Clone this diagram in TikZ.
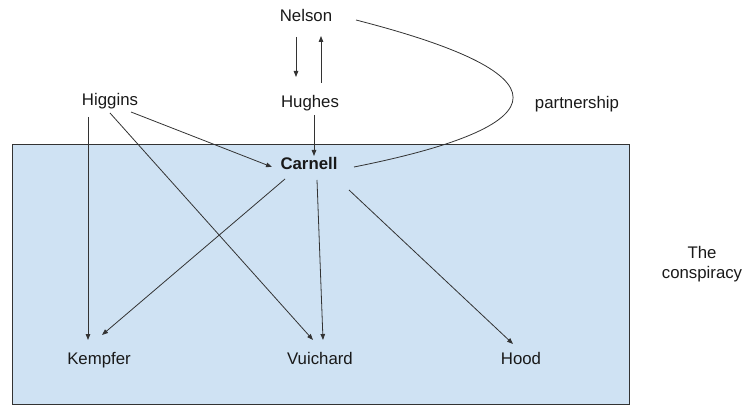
\documentclass[tikz,border=0pt]{standalone}
\usepackage{fontspec}
\setmainfont{Liberation Sans}
\usetikzlibrary{arrows.meta}
\definecolor{boxfill}{HTML}{CFE2F3}
\definecolor{ink}{HTML}{333333}
\begin{document}
\begin{tikzpicture}[x=1pt,y=-1pt,
  lbl/.style={inner sep=0pt,text height=12pt,text depth=0pt,font=\fontsize{16.8}{20}\selectfont,text=black!90},
  arr/.style={draw=ink,line width=0.8pt,-{Triangle[length=6pt,width=4.5pt]}},
  link/.style={draw=ink,line width=0.8pt}]
\useasboundingbox (0,0) rectangle (742,406);
\draw[fill=boxfill,draw=ink,line width=1pt] (12,145) rectangle (629,404);
\node[lbl] (nelson) at (306,16) {Nelson};
\node[lbl] (hughes) at (310,102) {Hughes};
\node[lbl] (higgins) at (110,100) {Higgins};
\node[lbl,font=\fontsize{16.8}{20}\selectfont\bfseries] (carnell) at (309,164) {Carnell};
\node[lbl] (kempfer) at (99,358) {Kempfer};
\node[lbl] (vuichard) at (320,358) {Vuichard};
\node[lbl] (hood) at (521,358) {Hood};
\node[lbl] (partnership) at (577,103) {partnership};
\node[inner sep=0pt,align=center,font=\fontsize{16.8}{20}\selectfont,text=black!90] (conspiracy) at (702,264) {The\\conspiracy};
% arrows
\draw[arr] ([shift={(-10,21)}]nelson.center) -- ([shift={(-14,-25)}]hughes.center);
\draw[arr] ([shift={(11,-19)}]hughes.center) -- ([shift={(15,20)}]nelson.center);
\draw[arr] ([shift={(21,12)}]higgins.center) -- ([shift={(-37,3)}]carnell.center);
\draw[arr] ([shift={(0,13)}]higgins.center) -- ([shift={(-7,-18)}]vuichard.center);
\draw[arr] ([shift={(-22,17)}]higgins.center) -- ([shift={(-11,-18)}]kempfer.center);
\draw[arr] ([shift={(4,13)}]hughes.center) -- ([shift={(5,-8)}]carnell.center);
\draw[arr] ([shift={(-24,15)}]carnell.center) -- ([shift={(3,-23)}]kempfer.center);
\draw[arr] ([shift={(8,16)}]carnell.center) -- ([shift={(3,-18)}]vuichard.center);
\draw[arr] ([shift={(40,26)}]carnell.center) -- ([shift={(-8,-14)}]hood.center);
\draw[link] ([shift={(50,4)}]nelson.center) .. controls (590,80) and (540,130) .. ([shift={(45,3)}]carnell.center);
\end{tikzpicture}
\end{document}
